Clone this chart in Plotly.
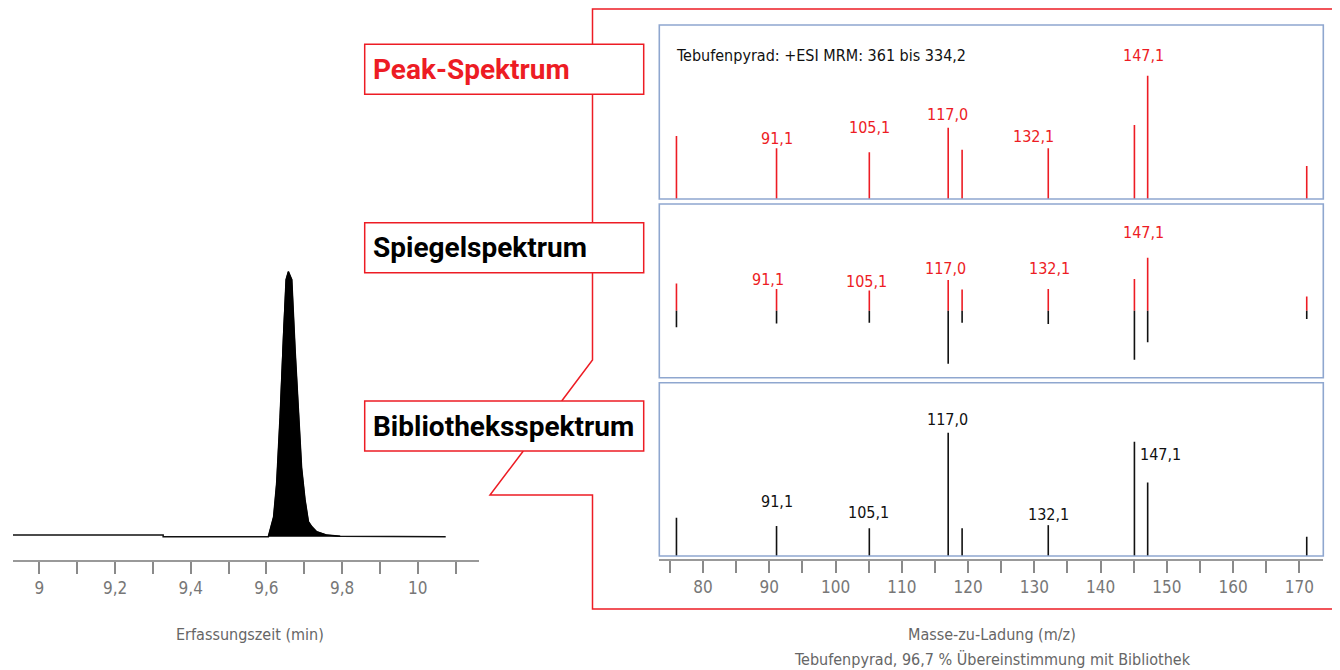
import plotly.graph_objects as go

# page body adds an 8 px margin, so the figure is drawn 8 px smaller and shifted
OFF = 8
W, H = 1340 - OFF, 670 - OFF

# chromatogram (Erfassungszeit in min, relative signal)
ret_time = [8.93, 9.327, 9.327, 9.605, 9.619, 9.627, 9.636, 9.645, 9.652, 9.658, 9.667,
            9.676, 9.685, 9.693, 9.702, 9.711, 9.720, 9.733, 9.760, 9.795, 10.074]
signal = [0.6, 0.6, 0.0, 0.0, 7.5, 20, 45, 77, 97, 100, 97,
          70, 45, 26, 14, 5.7, 3.8, 1.9, 0.6, 0.2, 0.0]
time_ticks = [9.0, 9.1, 9.2, 9.3, 9.4, 9.5, 9.6, 9.7, 9.8, 9.9, 10.0, 10.1]
time_labels = ["9", "", "9,2", "", "9,4", "", "9,6", "", "9,8", "", "10", ""]

# spectra (m/z, relative abundance)
mz = [76.0, 91.1, 105.1, 117.0, 119.1, 132.1, 145.1, 147.1, 171.1]
peak_int = [51.1, 41.1, 37.9, 57.8, 40.0, 41.1, 60.0, 100.0, 26.8]
lib_int = [31.0, 24.3, 22.5, 100.0, 22.5, 25.0, 92.7, 59.5, 15.7]
label_mz = [91.1, 105.1, 117.0, 132.1, 147.1]
label_text = ["91,1", "105,1", "117,0", "132,1", "147,1"]
mz_ticks = list(range(75, 171, 5))
mz_labels = [str(v) if v % 10 == 0 else "" for v in mz_ticks]

RED = "#ed1c24"
BLUE = "#8fa7cf"
GREY = "#8a8a8a"
FONT = "DejaVu Sans Condensed, Liberation Sans Narrow, sans-serif"
BOLD_FONT = "Roboto, Liberation Sans, sans-serif"


def px(x):
    return (x - OFF) / W


def py(y):
    return 1 - (y - OFF) / H


def sticks(x, y):
    xs, ys = [], []
    for a, b in zip(x, y):
        xs += [a, a, None]
        ys += [0, b, None]
    return xs, ys


fig = go.Figure()

# chromatogram
fig.add_trace(go.Scatter(x=ret_time, y=signal, mode="lines",
                         line=dict(color="#111111", width=1.5), xaxis="x", yaxis="y"))
pk = [i for i, t in enumerate(ret_time) if 9.6 <= t <= 9.8]
fig.add_trace(go.Scatter(x=[ret_time[i] for i in pk], y=[signal[i] for i in pk],
                         mode="lines", fill="tozeroy", fillcolor="#000000",
                         line=dict(color="#000000", width=1), xaxis="x", yaxis="y"))

# peak spectrum
xs, ys = sticks(mz, peak_int)
fig.add_trace(go.Scatter(x=xs, y=ys, mode="lines", line=dict(color=RED, width=1.6),
                         xaxis="x2", yaxis="y2"))
# mirror spectrum
xs, ys = sticks(mz, peak_int)
fig.add_trace(go.Scatter(x=xs, y=ys, mode="lines", line=dict(color=RED, width=1.6),
                         xaxis="x3", yaxis="y3"))
xs, ys = sticks(mz, [-v for v in lib_int])
fig.add_trace(go.Scatter(x=xs, y=ys, mode="lines", line=dict(color="#111111", width=1.6),
                         xaxis="x3", yaxis="y3"))
# library spectrum
xs, ys = sticks(mz, lib_int)
fig.add_trace(go.Scatter(x=xs, y=ys, mode="lines", line=dict(color="#111111", width=1.6),
                         xaxis="x4", yaxis="y4"))

mz_range = [73.41, 173.6]
spec_dom = [px(659.3), px(1323.3)]
hidden = dict(visible=False, fixedrange=True)

fig.update_layout(
    width=W, height=H, margin=dict(l=0, r=0, t=0, b=0),
    paper_bgcolor="white", plot_bgcolor="white", showlegend=False,
    font=dict(family=FONT, color="#111111", size=16),
    xaxis=dict(domain=[px(13), px(479)], range=[8.93, 10.162], anchor="y",
               tickmode="array", tickvals=time_ticks, ticktext=time_labels,
               ticks="outside", ticklen=12, tickwidth=1.5, tickcolor=GREY,
               showline=True, linecolor="#999999", linewidth=1.5, showgrid=False,
               zeroline=False, tickfont=dict(color="#777777", size=17)),
    yaxis=dict(domain=[py(560), py(260)], range=[-8.79, 104.4], **hidden),
    xaxis2=dict(domain=spec_dom, range=mz_range, anchor="y2", **hidden),
    yaxis2=dict(domain=[py(199), py(25)], range=[0, 141.1], anchor="x2", **hidden),
    xaxis3=dict(domain=spec_dom, range=mz_range, anchor="y3", **hidden),
    yaxis3=dict(domain=[py(377.7), py(204)], range=[-126.4, 201.3], anchor="x3", **hidden),
    xaxis4=dict(domain=spec_dom, range=mz_range, anchor="free", position=py(560),
                tickmode="array", tickvals=mz_ticks, ticktext=mz_labels,
                ticks="outside", ticklen=12, tickwidth=1.5, tickcolor=GREY,
                showline=True, linecolor="#999999", linewidth=1.5, showgrid=False,
                zeroline=False, tickfont=dict(color="#777777", size=17)),
    yaxis4=dict(domain=[py(556), py(382.7)], range=[0, 140.5], anchor="x4", **hidden),
)

shapes = []
# panel frames
for ax in ["2", "3", "4"]:
    shapes.append(dict(type="rect", xref="x%s domain" % ax, yref="y%s domain" % ax,
                       x0=0, x1=1, y0=0, y1=1, line=dict(color=BLUE, width=1.6)))


def path(points):
    return "M " + " L ".join("%f,%f" % (px(a), py(b)) for a, b in points)


red_line = dict(type="path", xref="paper", yref="paper", line=dict(color=RED, width=1.5))
shapes.append(dict(red_line, path=path([(1340, 9), (592.5, 9), (592.5, 44.3)])))
shapes.append(dict(red_line, path=path([(592.5, 94.3), (592.5, 222.7)])))
shapes.append(dict(red_line, path=path([(592.5, 272.7), (592.5, 360), (561.7, 401)])))
shapes.append(dict(red_line, path=path([(523.3, 451), (490, 495), (592.5, 495),
                                         (592.5, 609), (1340, 609)])))
box_tops = [44.3, 222.7, 401]
for top in box_tops:
    shapes.append(dict(type="rect", xref="paper", yref="paper",
                       x0=px(364.7), x1=px(643.7), y0=py(top + 50), y1=py(top),
                       fillcolor="white", line=dict(color=RED, width=1.5)))
fig.update_layout(shapes=shapes)

ann = []
box_titles = [("Peak-Spektrum", RED), ("Spiegelspektrum", "#000000"),
              ("Bibliotheksspektrum", "#000000")]
for (txt, col), top in zip(box_titles, box_tops):
    ann.append(dict(text="<b>%s</b>" % txt, xref="paper", yref="paper",
                    x=px(371), y=py(top + 25), xanchor="left", yanchor="middle",
                    showarrow=False, font=dict(family=BOLD_FONT, size=28, color=col)))

ann.append(dict(text="Tebufenpyrad: +ESI MRM: 361 bis 334,2", xref="paper", yref="paper",
                x=px(674), y=py(55), xanchor="left", yanchor="middle",
                showarrow=False, font=dict(size=16, color="#111111")))

top_shift = {91.1: (0, 10), 105.1: (0, 25), 117.0: (-0.6, 13.4), 132.1: (-14.4, 11.6),
             147.1: (-3.7, 20)}
mirror_shift = {91.1: (-8.4, 9.6), 105.1: (-2.7, 9.6), 117.0: (-2.3, 11.3),
                132.1: (1.6, 20.3), 147.1: (-3.7, 24.7)}
lib_shift = {91.1: (0, 24.3), 105.1: (-0.4, 15.6), 117.0: (-0.6, 13.4), 132.1: (0, 11),
             147.1: (13, 27.7)}

for m, txt in zip(label_mz, label_text):
    i = mz.index(m)
    for ax, val, shift, col in [("2", peak_int[i], top_shift, RED),
                                ("3", peak_int[i], mirror_shift, RED),
                                ("4", lib_int[i], lib_shift, "#111111")]:
        dx, dy = shift[m]
        ann.append(dict(text=txt, xref="x" + ax, yref="y" + ax, x=m, y=val,
                        xanchor="center", yanchor="middle", xshift=dx, yshift=dy,
                        showarrow=False, font=dict(size=16, color=col)))

ann.append(dict(text="Erfassungszeit (min)", xref="paper", yref="paper",
                x=px(250), y=py(634), xanchor="center", yanchor="middle",
                showarrow=False, font=dict(size=16, color="#666666")))
ann.append(dict(text="Masse-zu-Ladung (m/z)", xref="paper", yref="paper",
                x=px(992), y=py(634), xanchor="center", yanchor="middle",
                showarrow=False, font=dict(size=16, color="#666666")))
ann.append(dict(text="Tebufenpyrad, 96,7 % Übereinstimmung mit Bibliothek",
                xref="paper", yref="paper", x=px(992), y=py(659),
                xanchor="center", yanchor="middle",
                showarrow=False, font=dict(size=16, color="#666666")))
fig.update_layout(annotations=ann)

fig.write_html("out.html")
